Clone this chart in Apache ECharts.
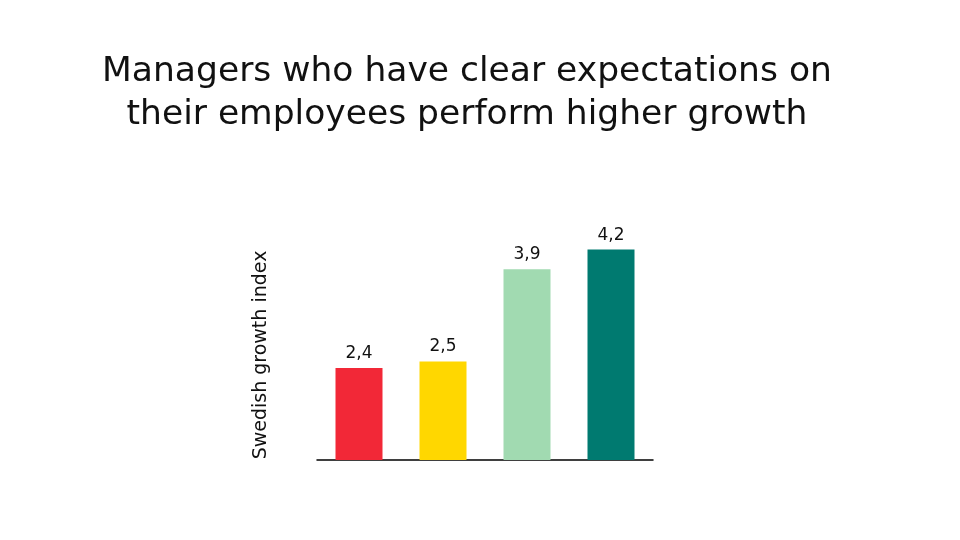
<!DOCTYPE html>
<html>
<head>
<meta charset="utf-8">
<script src="https://cdn.jsdelivr.net/npm/echarts@6/dist/echarts.min.js"></script>
<style>html,body{margin:0;padding:0;background:#fff}#c{width:960px;height:540px}</style>
</head>
<body>
<div id="c"></div>
<script>
const categories = ['A', 'B', 'C', 'D'];
const values = [2.4, 2.5, 3.9, 4.2];
const colors = ['#F22837', '#FFD700', '#A1DAB1', '#007A70'];
const titleText = 'Managers who have clear expectations on\ntheir employees perform higher growth';
const yName = 'Swedish growth index';
const FONT = 'DejaVu Sans';

const chart = echarts.init(document.getElementById('c'), null, {renderer: 'canvas'});
chart.setOption({
  animation: false,
  backgroundColor: '#fff',
  title: {
    text: titleText,
    left: 462, top: 46, textAlign: 'center',
    textStyle: {fontFamily: FONT, fontWeight: 'normal', fontSize: 34.5, lineHeight: 43, color: '#111'}
  },
  grid: {left: 317, right: 307, top: 197, bottom: 80},
  xAxis: {
    type: 'category', data: categories,
    axisLine: {lineStyle: {color: '#000', width: 1.5}},
    axisTick: {show: false}, axisLabel: {show: false}
  },
  yAxis: {
    type: 'value', min: 1, max: 5,
    name: yName, nameLocation: 'middle', nameGap: 46, nameRotate: 90,
    nameTextStyle: {fontFamily: FONT, fontSize: 19, color: '#111', padding: [0, 53, 0, 0]},
    axisLine: {show: false}, axisTick: {show: false}, axisLabel: {show: false},
    splitLine: {show: false}
  },
  series: [{
    type: 'bar', barWidth: 47,
    data: values.map((v, i) => ({value: v, itemStyle: {color: colors[i]}})),
    label: {
      show: true, position: 'top', distance: 6,
      fontFamily: FONT, fontSize: 17, color: '#111',
      formatter: p => String(p.value).replace('.', ',')
    }
  }]
});
</script>
</body>
</html>
